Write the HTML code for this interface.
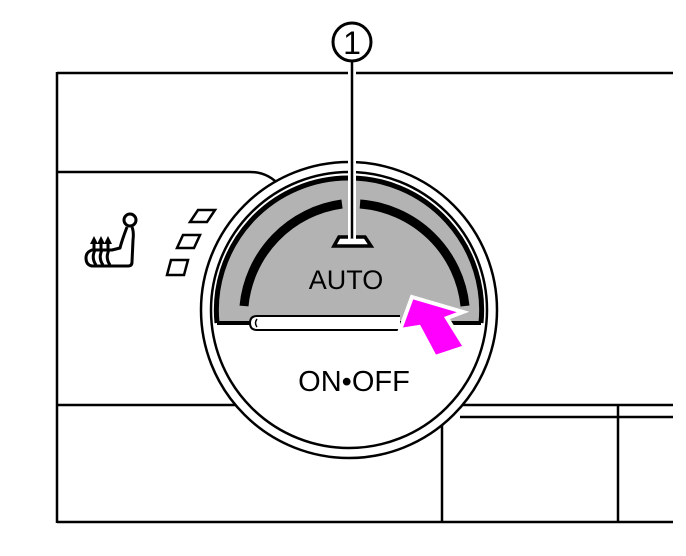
<!DOCTYPE html>
<html><head><style>html,body{margin:0;padding:0;background:#fff}svg{display:block}</style></head>
<body>
<svg width="686" height="556" viewBox="0 0 686 556" xmlns="http://www.w3.org/2000/svg" font-family="Liberation Sans, sans-serif">
<g stroke="#000" stroke-width="2.5" fill="none">
  <line x1="57" y1="73" x2="673" y2="73"/>
  <line x1="57" y1="72" x2="57" y2="523"/>
  <line x1="57" y1="522" x2="673" y2="522"/>
  <path d="M57 172 H250 Q268 172 280 186"/>
  <line x1="57" y1="405" x2="250" y2="405"/>
  <line x1="440" y1="405" x2="673" y2="405"/>
  <line x1="460" y1="417" x2="673" y2="417"/>
  <line x1="442" y1="417" x2="442" y2="522"/>
  <line x1="618" y1="405" x2="618" y2="522"/>
</g>
<!-- seat icon -->
<g stroke="#000" stroke-width="3" fill="none" stroke-linejoin="round">
  <circle cx="130" cy="220" r="6"/>
  <path d="M127 227 Q122 240 120 248 L112 250 L92 250 Q86 252 86 258 Q86 265 92 266 L128 266 Q132 266 132 262 L133 240 Q134 232 132 227"/>
  <path d="M95 250 Q91 258 96 265 M102 250 Q98 258 103 265 M109 250 Q105 258 110 265"/>
  <path d="M94 250 V242 M101 250 V242 M108 250 V242"/>
</g>
<g fill="#000"><path d="M90 244 L94 236 L98 244Z M97 244 L101 236 L105 244Z M104 244 L108 236 L112 244Z"/></g>
<g stroke="#000" stroke-width="2.5" fill="none">
  <path d="M198 210 H215 L207 222 H190 Z"/>
  <path d="M183 235 H200 L194 248 H177 Z"/>
  <path d="M171 260 H188 L184 275 H167 Z"/>
</g>
<!-- dial -->
<circle cx="349" cy="310" r="148" fill="#fff" stroke="#000" stroke-width="2.5"/>
<circle cx="349" cy="310" r="138" fill="#fff" stroke="#000" stroke-width="2.5"/>
<defs><clipPath id="top"><rect x="0" y="0" width="686" height="323"/></clipPath></defs>
<circle cx="349" cy="310" r="132" fill="#b3b3b3" clip-path="url(#top)"/>
<path d="M217 323 A132 132 0 0 1 349 178 A132 132 0 0 1 481 323" fill="none" stroke="#000" stroke-width="5"/>
<line x1="217" y1="323" x2="481" y2="323" stroke="#000" stroke-width="4"/>
<path d="M244 306 A114 114 0 0 1 342 204" fill="none" stroke="#000" stroke-width="9"/>
<path d="M360 204 A114 114 0 0 1 465 306" fill="none" stroke="#000" stroke-width="9"/>
<path d="M400 316 H257 Q250 316 250 323 Q250 330 257 330 H400" fill="#fff" stroke="#000" stroke-width="2"/>
<path d="M257 319 Q254 323 257 327" fill="none" stroke="#000" stroke-width="1.5"/>
<path d="M339 237 H365 L371 246 H334 Z" fill="#fff" stroke="#000" stroke-width="3.5"/>
<text x="346" y="289" font-size="27" text-anchor="middle">AUTO</text>
<text x="354" y="391" font-size="29" text-anchor="middle">ON•OFF</text>
<!-- leader -->
<line x1="352" y1="62" x2="352" y2="241" stroke="#fff" stroke-width="8"/>
<line x1="352" y1="61" x2="352" y2="241" stroke="#000" stroke-width="2.5"/>
<circle cx="352" cy="241" r="2.5" fill="#fff"/>
<circle cx="352" cy="42" r="19" fill="#fff" stroke="#000" stroke-width="3"/>
<text x="352" y="54" font-size="32" text-anchor="middle">1</text>
<!-- arrow -->
<path d="M412 297 L463 312 L447 318 L465 347 L435 357 L419 327 L400 330 Z" fill="#ff00ff" stroke="#fff" stroke-width="4" stroke-linejoin="miter"/>
</svg>
</body></html>
